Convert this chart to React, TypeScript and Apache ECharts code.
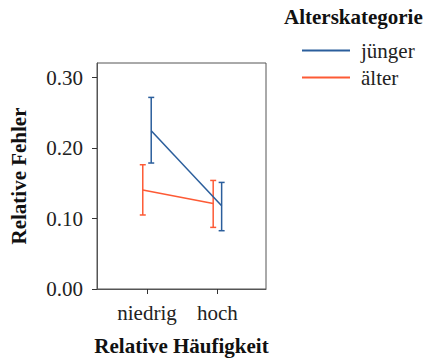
import React, { useEffect, useRef } from "react";
import * as echarts from "echarts";

const categories = ["niedrig", "hoch"];
const seriesNames = ["jünger", "älter"];
const youngMean = [0.2245, 0.1182];
const youngLow = [0.1787, 0.0827];
const youngHigh = [0.2718, 0.1512];
const oldMean = [0.1404, 0.1214];
const oldLow = [0.105, 0.0874];
const oldHigh = [0.1763, 0.154];
const yTicks = [0, 0.1, 0.2, 0.3];
const xTicks = [0, 1];
const dodge = 0.06;

const BLUE = "#2b5e9c";
const ORANGE = "#fd5a35";
const FONT = "Liberation Serif";
const FS = 21;

export default function App() {
  const ref = useRef<HTMLDivElement>(null);
  useEffect(() => {
    document.body.style.margin = "0";
    const chart = echarts.init(ref.current!, null, { renderer: "svg" });
    const mk = (mean: number[], low: number[], high: number[], off: number) =>
      mean.map((m, i) => [i + off, m, low[i], high[i]]);
    const youngData = mk(youngMean, youngLow, youngHigh, dodge);
    const oldData = mk(oldMean, oldLow, oldHigh, -dodge);
    const errSeries = (name: string, data: number[][], color: string) => ({
      type: "custom",
      name,
      data,
      z: 3,
      renderItem: (params: any, api: any) => {
        const x = api.value(0);
        const lo = api.coord([x, api.value(2)]);
        const hi = api.coord([x, api.value(3)]);
        const w = 3;
        const style = { stroke: color, lineWidth: 1.5 };
        return {
          type: "group",
          children: [
            { type: "line", shape: { x1: lo[0], y1: lo[1], x2: hi[0], y2: hi[1] }, style },
            { type: "line", shape: { x1: lo[0] - w, y1: lo[1], x2: lo[0] + w, y2: lo[1] }, style },
            { type: "line", shape: { x1: hi[0] - w, y1: hi[1], x2: hi[0] + w, y2: hi[1] }, style },
          ],
        };
      },
      encode: { x: 0, y: 1 },
      silent: true,
    });
    const axisLine = { show: true, onZero: false, lineStyle: { color: "#555", width: 1 } };
    chart.setOption({
      animation: false,
      textStyle: { fontFamily: FONT },
      grid: {
        left: 97,
        right: 160,
        top: 63,
        bottom: 71,
        show: true,
        borderColor: "#555",
        borderWidth: 1,
        containLabel: false,
        outerBoundsMode: "none",
      },
      title: {
        text: "Alterskategorie",
        left: 279,
        top: 1,
        textStyle: { fontFamily: FONT, fontSize: FS, fontWeight: "bold", color: "#111" },
      },
      legend: {
        orient: "vertical",
        left: 297,
        top: 35,
        icon: "rect",
        itemWidth: 48,
        itemHeight: 2,
        itemGap: 6,
        data: seriesNames,
        textStyle: { fontFamily: FONT, fontSize: FS, color: "#222", padding: [0, 0, 0, 6] },
      },
      xAxis: {
        type: "value",
        min: -0.71,
        max: 1.69,
        splitLine: { show: false },
        axisLine,
        axisTick: { show: true, length: 5, lineStyle: { color: "#333" }, customValues: xTicks },
        axisLabel: {
          customValues: xTicks,
          formatter: (v: number) => categories[Math.round(v)] ?? "",
          fontFamily: FONT,
          fontSize: FS,
          color: "#222",
          margin: 13,
        },
        name: "Relative Häufigkeit",
        nameLocation: "middle",
        nameGap: 46,
        nameTextStyle: { fontFamily: FONT, fontSize: FS, fontWeight: "bold", color: "#111" },
      },
      yAxis: {
        type: "value",
        min: 0,
        max: 0.3206,
        splitLine: { show: false },
        axisLine,
        axisTick: { show: true, length: 5, lineStyle: { color: "#333" }, customValues: yTicks },
        axisLabel: {
          customValues: yTicks,
          formatter: (v: number) => v.toFixed(2),
          fontFamily: FONT,
          fontSize: FS,
          color: "#222",
          margin: 14,
        },
        name: "Relative Fehler",
        nameLocation: "middle",
        nameGap: 68,
        nameTextStyle: { fontFamily: FONT, fontSize: FS, fontWeight: "bold", color: "#111" },
      },
      series: [
        {
          type: "line",
          name: seriesNames[0],
          data: youngData.map((d) => [d[0], d[1]]),
          symbol: "none",
          lineStyle: { color: BLUE, width: 1.5 },
          itemStyle: { color: BLUE },
        },
        {
          type: "line",
          name: seriesNames[1],
          data: oldData.map((d) => [d[0], d[1]]),
          symbol: "none",
          lineStyle: { color: ORANGE, width: 1.5 },
          itemStyle: { color: ORANGE },
        },
        errSeries("err-young", youngData, BLUE),
        errSeries("err-old", oldData, ORANGE),
      ],
    });
    return () => chart.dispose();
  }, []);
  return <div ref={ref} style={{ width: 426, height: 360 }} />;
}
